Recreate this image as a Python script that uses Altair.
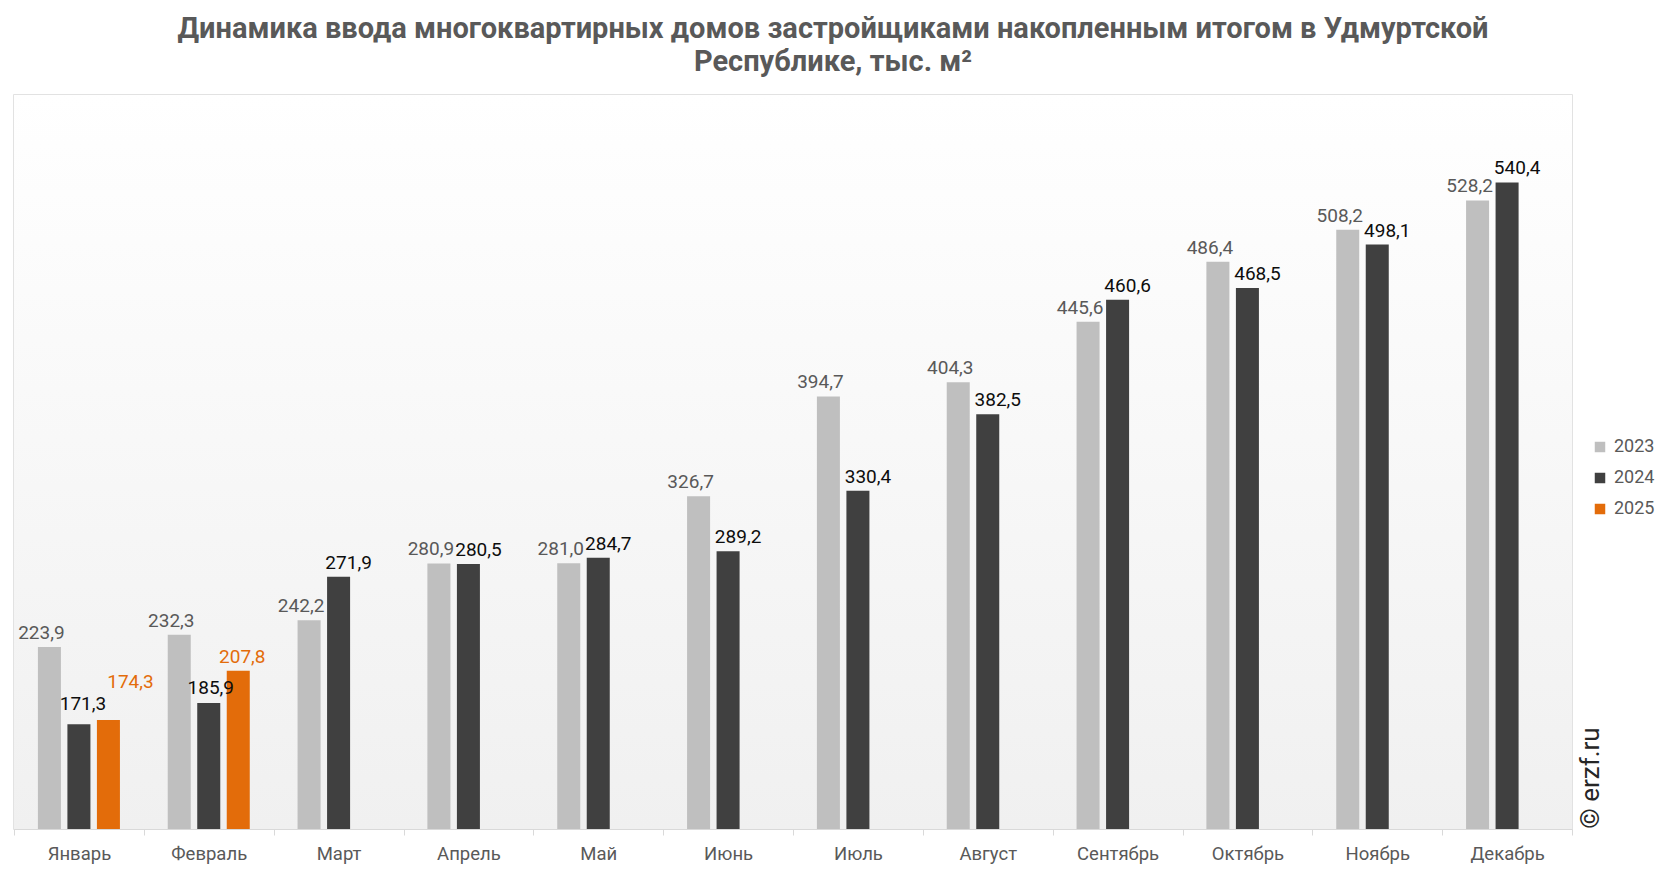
import altair as alt
import pandas as pd

months = ["Январь", "Февраль", "Март", "Апрель", "Май", "Июнь",
          "Июль", "Август", "Сентябрь", "Октябрь", "Ноябрь", "Декабрь"]
years = ["2023", "2024", "2025"]
v2023 = [223.9, 232.3, 242.2, 280.9, 281.0, 326.7, 394.7, 404.3, 445.6, 486.4, 508.2, 528.2]
v2024 = [171.3, 185.9, 271.9, 280.5, 284.7, 289.2, 330.4, 382.5, 460.6, 468.5, 498.1, 540.4]
v2025 = [174.3, 207.8]
colors = ["#bfbfbf", "#404040", "#e36c0a"]
label_colors = ["#595959", "#0d0d0d", "#e36c0a"]

rows = []
for y, vals in zip(years, [v2023, v2024, v2025]):
    for m, v in zip(months, vals):
        rows.append({"month": m, "year": y, "value": v})
df = pd.DataFrame(rows)

W, H = 1558, 734
FONT = "Roboto"
LBL = 19

x_enc = alt.X("month:N", sort=months, title=None,
              scale=alt.Scale(paddingInner=0, paddingOuter=0),
              axis=alt.Axis(labelAngle=0, labelFont=FONT, labelFontSize=18.5,
                            labelColor="#595959", labelPadding=9,
                            domainColor="#d9d9d9", tickColor="#d9d9d9",
                            tickSize=6, tickBand="extent", grid=False))
xo_enc = alt.XOffset("year:N", scale=alt.Scale(domain=years, paddingInner=0.22, paddingOuter=0.81))
y_scale = alt.Scale(domain=[100, 600], zero=False, nice=False)

base = alt.Chart(df).transform_calculate(
    label="replace(format(datum.value, '.1f'), '.', ',')"
)

bg = alt.Chart(pd.DataFrame({"a": [0]})).mark_rect(
    color=alt.LinearGradient(gradient="linear",
                             stops=[alt.GradientStop(color="#ffffff", offset=0),
                                    alt.GradientStop(color="#f0f0f0", offset=1)],
                             x1=0, x2=0, y1=0, y2=1)
).encode(x=alt.value(0), x2=alt.value(W), y=alt.value(0), y2=alt.value(H))

bars = base.mark_bar(clip=True).encode(
    x=x_enc,
    xOffset=xo_enc,
    y=alt.Y("value:Q", scale=y_scale, axis=None),
    y2=alt.datum(100),
    color=alt.Color("year:N", scale=alt.Scale(domain=years, range=colors),
                    legend=alt.Legend(title=None, orient="none", legendX=1577, legendY=343,
                                      symbolType="square", symbolSize=110,
                                      symbolStrokeWidth=0,
                                      labelFont=FONT, labelFontSize=18,
                                      labelColor="#595959", rowPadding=13,
                                      labelOffset=5)),
)


def text_layer(flt, color, dx, dy):
    return base.transform_filter(flt).mark_text(
        font=FONT, fontSize=LBL, color=color, baseline="bottom", dy=dy, dx=dx
    ).encode(
        x=x_enc, xOffset=xo_enc,
        y=alt.Y("value:Q", scale=y_scale, axis=None),
        text="label:N",
    )


jan = alt.datum.month == "Январь"
feb = alt.datum.month == "Февраль"
texts = [
    text_layer(alt.datum.year == "2023", label_colors[0], -8, -4),
    text_layer((alt.datum.year == "2024") & ~jan & ~feb, label_colors[1], 10, -4),
    text_layer((alt.datum.year == "2024") & feb, label_colors[1], 2, -5),
    text_layer((alt.datum.year == "2024") & jan, label_colors[1], 4, -10),
    text_layer((alt.datum.year == "2025") & ~jan, label_colors[2], 4, -4),
    text_layer((alt.datum.year == "2025") & jan, label_colors[2], 22, -28),
]

wm = alt.Chart(pd.DataFrame({"a": [0]})).mark_text(
    font=FONT, fontSize=26, color="#262626", angle=270, align="center", baseline="middle"
).encode(x=alt.value(1577), y=alt.value(683), text=alt.value("© erzf.ru"))

chart = alt.layer(bg, bars, *texts, wm).properties(
    width=W, height=H,
    autosize=alt.AutoSizeParams(type="none"),
    padding={"left": 6, "top": 87, "right": 86, "bottom": 35},
    title=alt.TitleParams(
        text=["Динамика ввода многоквартирных домов застройщиками накопленным итогом в Удмуртской",
              "Республике, тыс. м²"],
        font=FONT, fontSize=29, fontWeight="bold", color="#595959",
        anchor="middle", dx=40, offset=18, lineHeight=33,
    ),
).configure_view(stroke="#d9d9d9", strokeWidth=1.5)

chart.save("out.html", embed_options={"renderer": "svg", "actions": False})
